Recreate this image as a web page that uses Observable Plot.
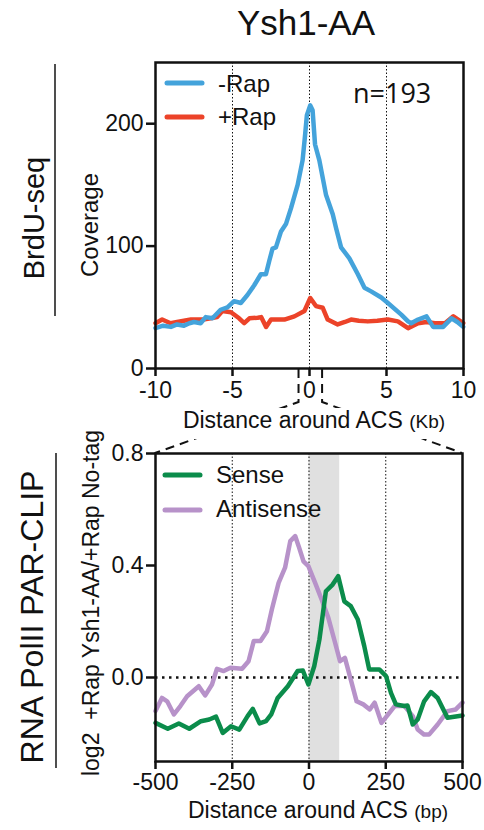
<!DOCTYPE html>
<html>
<head>
<meta charset="utf-8">
<script src="https://cdn.jsdelivr.net/npm/d3@7"></script>
<script src="https://cdn.jsdelivr.net/npm/@observablehq/plot@0.6"></script>
<style>
  html, body { margin: 0; padding: 0; background: #fff; }
  #wrap { position: relative; width: 484px; height: 830px; overflow: hidden; font-family: "Liberation Sans", Arial, sans-serif; }
  #wrap > svg, #wrap > figure { position: absolute; left: 0; margin: 0; }
</style>
</head>
<body>
<div id="wrap"></div>
<script>
// ---------- Data ----------
const title = "Ysh1-AA";
const nLabel = "n=193";

// Top panel: BrdU-seq coverage around ACS (kb)
const minusRapKb = [-10,-9.5,-9,-8.6,-8.15,-7.8,-7.5,-7.07,-6.74,-6.3,-5.77,-5.33,-4.9,-4.46,-4.03,-3.59,-3.16,-2.83,-2.61,-2.4,-2.18,-1.85,-1.53,-1.2,-0.77,-0.45,-0.3,-0.17,0.05,0.2,0.36,0.64,1.07,1.51,1.72,2.05,2.59,3.14,3.57,4.0,4.66,5.09,5.96,6.4,6.6,7.05,7.6,8.03,8.68,9.22,9.6,9.98];
const minusRapCov = [33,35,34,36,35,37,38,37,42,41,48,50,55,53.5,60,68,77,77,88,98,99,112,118,131,150,170,189,207,215,211,183,170,142,126,115,99,90,77,66,63,58,53.5,44,38.5,37,40,42.6,34,34,41,38,34];
const plusRapKb = [-10,-9.57,-9.02,-8.6,-8.15,-7.7,-7.29,-6.9,-6.42,-6.0,-5.66,-5.1,-4.57,-4.24,-3.9,-3.36,-3.14,-2.82,-2.5,-2.0,-1.63,-0.98,-0.33,0.05,0.42,0.86,1.18,1.83,2.3,2.7,3.2,3.79,4.4,5.09,5.74,6.4,7.05,7.6,8.14,8.8,9.34,9.98];
const plusRapCov = [37,40,37,38,39,40,40,40,41,42,47,46,41,37,41,41.5,42,34,40,40,40,42.6,47,57.6,51,49.6,40,36,38,40,39,38.5,39,40,38.5,33,37,38,37,37,42.6,37];
const topXTicks = [-10,-5,0,5,10];
const topYTicks = [0,100,200];
const topGrid = [-5,0,5];
const zoomWindowKb = [-0.68, 0.85];

// Bottom panel: PAR-CLIP log2 ratio around ACS (bp)
const senseBp = [-500,-460,-424,-390,-352,-325,-303,-281,-254,-227,-200,-183,-161,-140,-123,-102,-69,-37,-20,-2,17,34,55,77,95,115,136,159,180,196,229,251,267,283,310,321,338,354,375,397,419,451,500];
const senseVal = [-0.162,-0.183,-0.164,-0.183,-0.156,-0.15,-0.14,-0.198,-0.174,-0.186,-0.138,-0.112,-0.164,-0.156,-0.132,-0.073,-0.031,0.023,0.025,-0.025,0.04,0.136,0.308,0.332,0.362,0.272,0.255,0.207,0.112,0.029,0.029,0.005,-0.055,-0.096,-0.102,-0.1,-0.168,-0.15,-0.085,-0.052,-0.073,-0.144,-0.136];
const antiBp = [-500,-479,-462,-440,-419,-397,-359,-338,-316,-300,-278,-256,-218,-197,-180,-158,-137,-121,-99,-78,-61,-45,-34,-18,-2,20,41,63,85,101,117,139,155,177,198,214,236,258,279,311,338,354,375,391,419,451,478,500];
const antiVal = [-0.12,-0.073,-0.085,-0.132,-0.102,-0.067,-0.031,-0.064,-0.025,0.031,0.023,0.035,0.031,0.058,0.13,0.13,0.165,0.243,0.338,0.392,0.487,0.505,0.47,0.415,0.398,0.338,0.279,0.213,0.124,0.058,0.07,-0.019,-0.085,-0.096,-0.114,-0.09,-0.162,-0.132,-0.102,-0.102,-0.138,-0.186,-0.204,-0.204,-0.168,-0.12,-0.114,-0.09];
const botXTicks = [-500,-250,0,250,500];
const botYTicks = [0.0,0.4,0.8];
const botGrid = [-250,0,250];
const shadeBp = [0, 100];

const colors = {minus: "#44a3db", plus: "#ec4329", sense: "#0b8c4b", anti: "#b792c9"};

// ---------- Build ----------
const font = "'Liberation Sans', Arial, Helvetica, sans-serif";
const wrap = document.getElementById("wrap");

const minusData = minusRapKb.map((x, i) => ({x, y: minusRapCov[i]}));
const plusData = plusRapKb.map((x, i) => ({x, y: plusRapCov[i]}));
const senseData = senseBp.map((x, i) => ({x, y: senseVal[i]}));
const antiData = antiBp.map((x, i) => ({x, y: antiVal[i]}));

const TOP_Y = 0, BOT_Y = 440;

const topPlot = Plot.plot({
  width: 484, height: 440,
  marginTop: 62, marginBottom: 72, marginLeft: 155, marginRight: 21,
  x: {domain: [-10, 10]},
  y: {domain: [0, 250]},
  style: {fontFamily: font, fontSize: "23px", color: "#111", background: "transparent", overflow: "visible"},
  marks: [
    Plot.ruleX(topGrid, {stroke: "#111", strokeWidth: 1, strokeDasharray: "1.5,2"}),
    Plot.line(plusData, {x: "x", y: "y", stroke: colors.plus, strokeWidth: 4.5, strokeLinejoin: "round"}),
    Plot.line(minusData, {x: "x", y: "y", stroke: colors.minus, strokeWidth: 4.5, strokeLinejoin: "round"}),
    Plot.frame({stroke: "#111", strokeWidth: 2.5}),
    Plot.axisX({ticks: topXTicks, tickSize: 8, tickPadding: 5, strokeWidth: 2.5, label: null, tickFormat: d => String(d)}),
    Plot.axisY({ticks: topYTicks, tickSize: 9, tickPadding: 3, strokeWidth: 2.5, label: null, tickFormat: d => String(d)})
  ]
});
topPlot.style.top = TOP_Y + "px";
wrap.appendChild(topPlot);

const botPlot = Plot.plot({
  width: 484, height: 390,
  marginTop: 13, marginBottom: 69, marginLeft: 155, marginRight: 22,
  x: {domain: [-500, 500]},
  y: {domain: [-0.3, 0.8]},
  style: {fontFamily: font, fontSize: "23px", color: "#111", background: "transparent", overflow: "visible"},
  marks: [
    Plot.rect([{x1: shadeBp[0], x2: shadeBp[1]}], {x1: "x1", x2: "x2", fill: "#e0e0e0"}),
    Plot.ruleX(botGrid, {stroke: "#111", strokeWidth: 1, strokeDasharray: "1.5,2"}),
    Plot.ruleY([0], {stroke: "#111", strokeWidth: 2.5, strokeDasharray: "2.5,4.5"}),
    Plot.line(antiData, {x: "x", y: "y", stroke: colors.anti, strokeWidth: 4.5, strokeLinejoin: "round"}),
    Plot.line(senseData, {x: "x", y: "y", stroke: colors.sense, strokeWidth: 4.5, strokeLinejoin: "round"}),
    Plot.frame({stroke: "#111", strokeWidth: 2.5}),
    Plot.axisX({ticks: botXTicks, tickSize: 8, tickPadding: 4, strokeWidth: 2.5, label: null, tickFormat: d => String(d)}),
    Plot.axisY({ticks: botYTicks, tickSize: 9, tickPadding: 3, strokeWidth: 2.5, label: null, tickFormat: d3.format(".1f")})
  ]
});
botPlot.style.top = BOT_Y + "px";
wrap.appendChild(botPlot);

// ---------- Overlay: titles, labels, legends, zoom connectors ----------
const sxT = topPlot.scale("x"), syT = topPlot.scale("y");
const sxB = botPlot.scale("x"), syB = botPlot.scale("y");

const ov = d3.select(wrap).append("svg")
  .attr("width", 484).attr("height", 830)
  .style("top", "0px").style("pointer-events", "none")
  .attr("font-family", font).attr("fill", "#111");

ov.append("text").attr("x", 306).attr("y", 35).attr("text-anchor", "middle")
  .attr("font-size", 35).text(title);

// Section labels with rules
function vlabel(x, y, size, txt) {
  return ov.append("text").attr("transform", `translate(${x},${y}) rotate(-90)`)
    .attr("text-anchor", "middle").attr("font-size", size)
    .attr("xml:space", "preserve").style("white-space", "pre").text(txt);
}
vlabel(44, 218, 29, "BrdU-seq");
ov.append("line").attr("x1", 55).attr("x2", 55).attr("y1", 64).attr("y2", 316).attr("stroke", "#222").attr("stroke-width", 1.6);
vlabel(43, 617, 32, "RNA PolII PAR-CLIP");
ov.append("line").attr("x1", 56).attr("x2", 56).attr("y1", 453).attr("y2", 768).attr("stroke", "#222").attr("stroke-width", 1.6);

vlabel(98, 225, 24, "Coverage");
vlabel(99, 603, 23, "log2  +Rap Ysh1-AA/+Rap No-tag");

// Zoom connectors from the top panel's ACS window to the bottom panel
const topFrameBottom = TOP_Y + syT.apply(0);
const botFrameTop = BOT_Y + syB.apply(0.8);
const elbowY = 402;
const connectors = [
  [[sxT.apply(zoomWindowKb[0]), topFrameBottom + 1], [sxT.apply(zoomWindowKb[0]), elbowY], [sxB.apply(-500), botFrameTop]],
  [[sxT.apply(zoomWindowKb[1]), topFrameBottom + 1], [sxT.apply(zoomWindowKb[1]), elbowY], [sxB.apply(500), botFrameTop]]
];
connectors.forEach(pts => {
  ov.append("path").attr("d", d3.line()(pts)).attr("fill", "none")
    .attr("stroke", "#111").attr("stroke-width", 2).attr("stroke-dasharray", "9,6");
});
// white band behind the top x-axis title (hides the middle of the connectors)
ov.append("rect").attr("x", 160).attr("y", 408).attr("width", 300).attr("height", 31).attr("fill", "#fff");

// x-axis titles
function xlabel(x, y, main, unit) {
  const t = ov.append("text").attr("x", x).attr("y", y).attr("text-anchor", "middle").attr("font-size", 23);
  t.append("tspan").text(main + " ");
  t.append("tspan").attr("font-size", 19).text(unit);
}
xlabel(314, 428, "Distance around ACS", "(Kb)");
xlabel(318, 818, "Distance around ACS", "(bp)");

// n label
ov.append("text").attr("x", 353).attr("y", 103).attr("font-size", 27)
  .attr("font-family", "'Open Sans', sans-serif").text(nLabel);

// Legends
function legend(x0, y0, color, label, ty) {
  ov.append("line").attr("x1", x0).attr("x2", x0 + 35).attr("y1", y0).attr("y2", y0)
    .attr("stroke", color).attr("stroke-width", 5).attr("stroke-linecap", "round");
  ov.append("text").attr("x", x0 + 51).attr("y", ty).attr("font-size", 24).text(label);
}
legend(167, 83, colors.minus, "-Rap", 92);
legend(167, 117, colors.plus, "+Rap", 125);
legend(165, 475, colors.sense, "Sense", 483);
legend(165, 510, colors.anti, "Antisense", 517);
</script>
</body>
</html>
